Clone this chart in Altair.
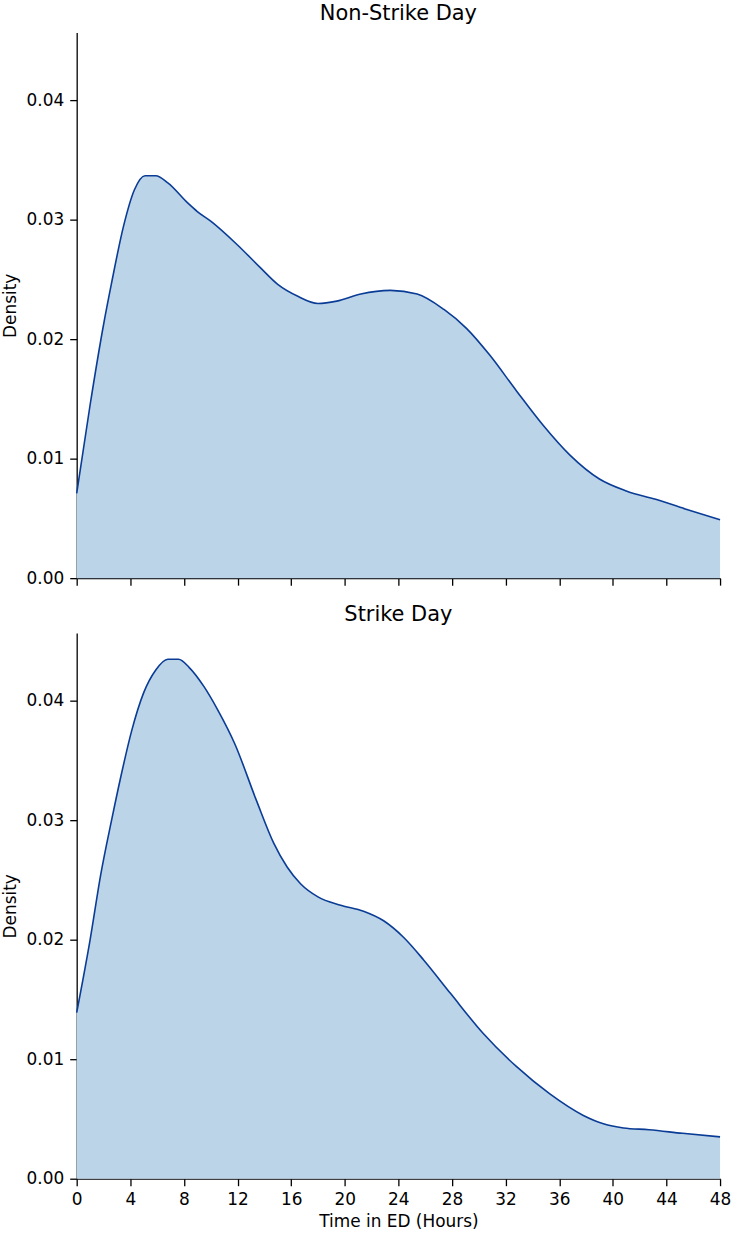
import altair as alt
import pandas as pd

# ---- data (hours, density) ----
ns_hours = [0, 1.0, 2.0, 2.6, 3.5, 4.3, 5.1, 5.9, 6.8, 8.3, 9.0, 10.0, 12.0, 13.7,
            15.0, 16.5, 18.0, 19.4, 21.2, 23.4, 25.4, 27.4, 29.1, 30.8, 32.8, 34.8,
            36.8, 39.0, 41.0, 43.2, 45.4, 48.0]
ns_density = [0.0071, 0.0145, 0.0212, 0.0247, 0.0295, 0.0325, 0.0337, 0.0337, 0.0331,
              0.0314, 0.0307, 0.0299, 0.0279, 0.0260, 0.0246, 0.0236, 0.0230, 0.0232,
              0.0238, 0.0241, 0.0238, 0.0225, 0.0209, 0.0187, 0.0157, 0.0128, 0.0103,
              0.0083, 0.0073, 0.0066, 0.0058, 0.0049]

s_hours = [0, 1.0, 1.8, 2.6, 3.3, 4.1, 5.0, 5.9, 6.8, 7.6, 8.4, 9.5, 10.5, 11.8, 13.4,
           14.7, 15.7, 16.7, 18.0, 19.7, 21.4, 22.9, 24.4, 25.9, 27.9, 30.3, 32.8, 35.3,
           37.8, 39.3, 40.8, 42.7, 45.2, 48.0]
s_density = [0.0139, 0.0200, 0.0255, 0.0300, 0.0337, 0.0375, 0.0407, 0.0426, 0.0435,
             0.0435, 0.0428, 0.0412, 0.0393, 0.0364, 0.0317, 0.0281, 0.0261, 0.0247,
             0.0236, 0.0229, 0.0224, 0.0216, 0.0202, 0.0183, 0.0155, 0.0122, 0.0094,
             0.0071, 0.0053, 0.0046, 0.00425, 0.0041, 0.0038, 0.0035]

x_ticks = list(range(0, 49, 4))
y_ticks = [0.0, 0.01, 0.02, 0.03, 0.04]

FILL = "#bcd4e8"
LINE = "#0a3c96"
FONT = "DejaVu Sans"
Y_MAX = 0.0457
W, H = 646, 548


def panel(hours, dens, title, bottom):
    df = pd.DataFrame({"hours": hours, "density": dens})
    if bottom:
        xaxis = alt.Axis(values=x_ticks, title="Time in ED (Hours)", labelPadding=6,
                         labelFlush=False, titlePadding=6)
    else:
        xaxis = alt.Axis(values=x_ticks, labels=False, title=None)
    x = alt.X("hours:Q", scale=alt.Scale(domain=[0, 48], nice=False, zero=False),
              axis=xaxis)
    y = alt.Y("density:Q", scale=alt.Scale(domain=[0, Y_MAX], nice=False),
              axis=alt.Axis(values=y_ticks, format=".2f", title="Density",
                            labelPadding=6, titlePadding=7))
    base = alt.Chart(df)
    area = base.mark_area(color=FILL, interpolate="monotone", opacity=1).encode(x=x, y=y)
    line = base.mark_line(color=LINE, strokeWidth=1.6, interpolate="monotone").encode(x=x, y=y)
    return alt.layer(area, line).properties(
        width=W, height=H,
        title=alt.TitleParams(title, fontSize=21, font=FONT, fontWeight="normal",
                              color="black", anchor="middle", offset=8),
    )


top = panel(ns_hours, ns_density, "Non-Strike Day", False)
bot = panel(s_hours, s_density, "Strike Day", True)

chart = alt.vconcat(top, bot, spacing=16).properties(
    padding={"left": 0, "top": 0, "right": 3, "bottom": 4}
).configure_view(stroke="transparent").configure_axis(
    grid=False,
    domainColor="black", domainWidth=1.3,
    tickColor="black", tickWidth=1.3, tickSize=7,
    labelFont=FONT, labelFontSize=17, labelColor="black",
    titleFont=FONT, titleFontSize=17, titleFontWeight="normal", titleColor="black",
).configure_concat(spacing=16)

chart.save("out.html", embed_options={"renderer": "svg", "actions": False})
